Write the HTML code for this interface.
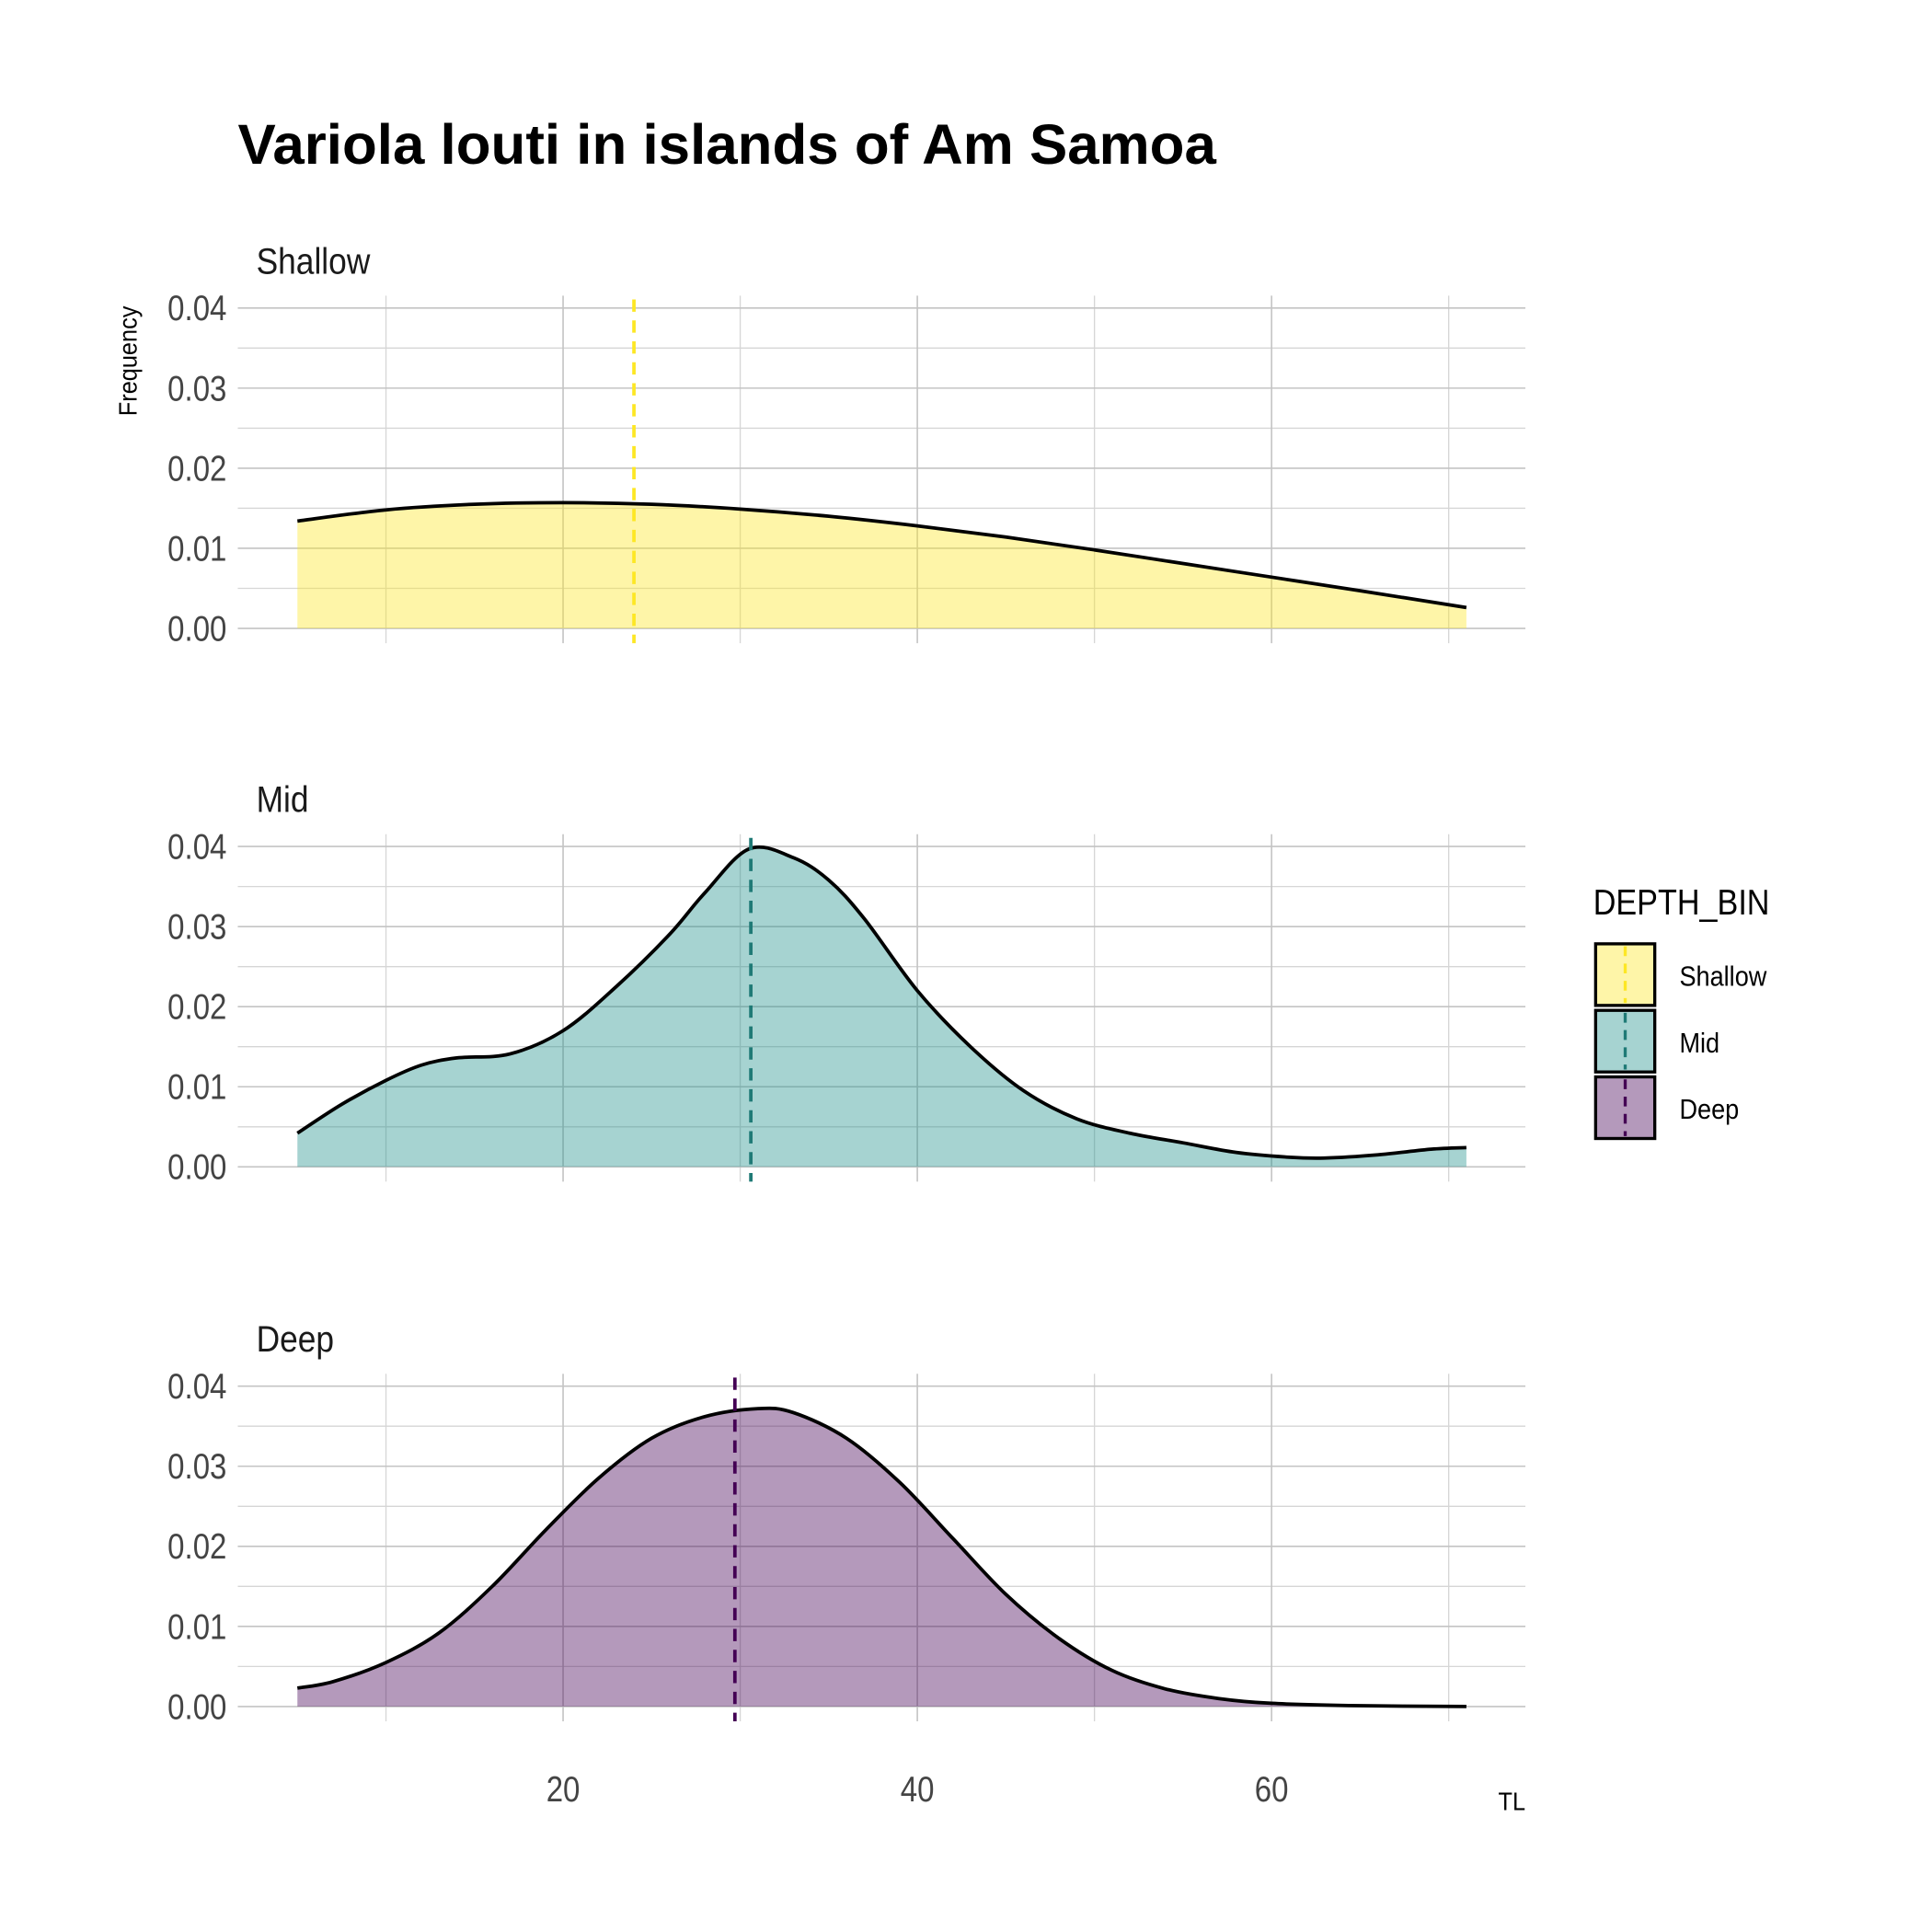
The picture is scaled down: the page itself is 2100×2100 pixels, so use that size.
<!DOCTYPE html>
<html><head><meta charset="utf-8">
<style>
html,body{margin:0;padding:0;background:#fff;}
svg{display:block;font-family:"Liberation Sans",Arial,sans-serif;}
</style></head>
<body>
<svg id="chart" width="2100" height="2100" viewBox="0 0 1568 1568" xmlns="http://www.w3.org/2000/svg">
<text x="193" y="133" font-size="46" font-weight="bold" fill="#000" textLength="794" lengthAdjust="spacingAndGlyphs">Variola louti in islands of Am Samoa</text>
<text transform="translate(111,293) rotate(-90) scale(0.9,1)" text-anchor="middle" font-size="21" fill="#000">Frequency</text>
<text transform="translate(1238,1469) scale(0.9,1)" text-anchor="end" font-size="21" fill="#000">TL</text>
<g id="panels"></g>
<g id="legend">
<text transform="translate(1293,742) scale(0.88,1)" font-size="29" fill="#000">DEPTH_BIN</text>
</g>
</svg>
<script>
const groups = ["Shallow","Mid","Deep"];
const shallowX = [5,10,15,20,25,30,35,40,45,50,55,60,65,71];
const shallowY = [0.0134,0.0148,0.0155,0.0157,0.0155,0.0149,0.0140,0.0128,0.0114,0.0098,0.0081,0.0064,0.0047,0.0026];
const midX = [5,7.5,10,12,14,17,20,23,26,28,30.5,33,35,37,40,43,46,49,52,55,58,61,63,66,69,71];
const midY = [0.0042,0.0078,0.0108,0.0127,0.0136,0.0141,0.0170,0.0225,0.0290,0.0342,0.0397,0.0386,0.0358,0.0310,0.0220,0.0150,0.0095,0.0060,0.0042,0.0030,0.0018,0.0012,0.0011,0.0015,0.0022,0.0024];
const deepX = [5,7,10,13,16,19,22,25,28,31,33,36,39,42,45,48,51,54,57,60,65,71];
const deepY = [0.0023,0.0031,0.0055,0.0092,0.0150,0.0220,0.0285,0.0335,0.0362,0.0372,0.0367,0.0335,0.0280,0.0210,0.0140,0.0085,0.0045,0.0022,0.0010,0.0004,0.0001,0.0000];
const means = [24.0, 30.6, 29.7];
const yTicks = [0,0.01,0.02,0.03,0.04];
const yTickLabels = ["0.00","0.01","0.02","0.03","0.04"];
const xTicks = [20,40,60];
const xTickLabels = ["20","40","60"];

const fills = ["#FDE725","#21908C","#440154"];
const meanColors = ["#FDE725","#1f7a76","#440154"];
const xs=[shallowX,midX,deepX], ys=[shallowY,midY,deepY];
const zeroY=[510,947,1385];
const PL=193, PR=1238;
const NS="http://www.w3.org/2000/svg";
function X(v){return 169.5+v*14.375;}
function Yf(p){return v=>zeroY[p]-v*6500;}
function mk(tag,attrs,parent){const e=document.createElementNS(NS,tag);for(const k in attrs)e.setAttribute(k,attrs[k]);parent.appendChild(e);return e;}
function smooth(pts){
  let d="M"+pts[0][0]+","+pts[0][1];
  for(let i=0;i<pts.length-1;i++){
    const p0=pts[Math.max(i-1,0)],p1=pts[i],p2=pts[i+1],p3=pts[Math.min(i+2,pts.length-1)];
    const c1x=p1[0]+(p2[0]-p0[0])/6,c1y=p1[1]+(p2[1]-p0[1])/6;
    const c2x=p2[0]-(p3[0]-p1[0])/6,c2y=p2[1]-(p3[1]-p1[1])/6;
    d+=" C"+c1x+","+c1y+" "+c2x+","+c2y+" "+p2[0]+","+p2[1];
  }
  return d;
}
const root=document.getElementById("panels");
for(let p=0;p<3;p++){
  const Y=Yf(p);
  const g=mk("g",{},root);
  
  
  const top=Y(0.04)-10, bot=Y(0)+12;
  for(let i=0;i<4;i++){const l=mk("line",{x1:PL,x2:PR,y1:Y(0.005+i*0.01),y2:Y(0.005+i*0.01),stroke:"#d6d6d6","stroke-width":1},g);
    
    }
  for(const v of [10,30,50,70]){const l=mk("line",{x1:X(v),x2:X(v),y1:top,y2:bot,stroke:"#d6d6d6","stroke-width":1},g);
    
    }
  yTicks.forEach((t,i)=>{
    const l=mk("line",{x1:PL,x2:PR,y1:Y(t),y2:Y(t),stroke:"#c4c4c4","stroke-width":1.2},g);
    
    
    const tx=mk("text",{transform:"translate(184,"+(Y(t)+10)+") scale(0.85,1)","text-anchor":"end","font-size":29,fill:"#444"},g);
    
    
    tx.textContent=yTickLabels[i];
  });
  xTicks.forEach(t=>{
    const l=mk("line",{x1:X(t),x2:X(t),y1:top,y2:bot,stroke:"#c4c4c4","stroke-width":1.2},g);
    
    
  });
  const pts=xs[p].map((v,i)=>[X(v),Y(ys[p][i])]);
  const line=smooth(pts);
  const area=mk("path",{d:line+" L"+X(xs[p][xs[p].length-1])+","+Y(0)+" L"+X(xs[p][0])+","+Y(0)+" Z",fill:fills[p],"fill-opacity":0.4,stroke:"none"},g);
  
  
  const ln=mk("path",{d:line,fill:"none",stroke:"#000","stroke-width":2.8},g);
  
  
  const m=mk("line",{x1:X(means[p]),x2:X(means[p]),y1:top+3,y2:bot,stroke:meanColors[p],"stroke-width":2.8,"stroke-dasharray":"10,7"},g);
  
  
  const st=mk("text",{transform:"translate(208,"+(Y(0.04)-28)+") scale(0.88,1)","font-size":30,fill:"#1a1a1a"},g);
  
  
  st.textContent=groups[p];
}
const ax=document.getElementById("panels");
xTicks.forEach((t,i)=>{
  const tx=mk("text",{transform:"translate("+X(t)+",1462) scale(0.85,1)","text-anchor":"middle","font-size":29,fill:"#444"},ax);
  
  
  tx.textContent=xTickLabels[i];
});
const lg=document.getElementById("legend");
groups.forEach((gname,i)=>{
  const y0=766+i*54;
  const r=mk("rect",{x:1295,y:y0,width:48,height:50,fill:fills[i],"fill-opacity":0.4,stroke:"#000","stroke-width":2.5},lg);
  
  
  const d=mk("line",{x1:1319,x2:1319,y1:y0+2,y2:y0+48,stroke:meanColors[i],"stroke-width":2.5,"stroke-dasharray":"8,6"},lg);
  
  
  const t=mk("text",{transform:"translate(1363,"+(y0+34)+") scale(0.88,1)","font-size":23,fill:"#000"},lg);
  
  
  t.textContent=gname;
});
</script>
</body></html>
